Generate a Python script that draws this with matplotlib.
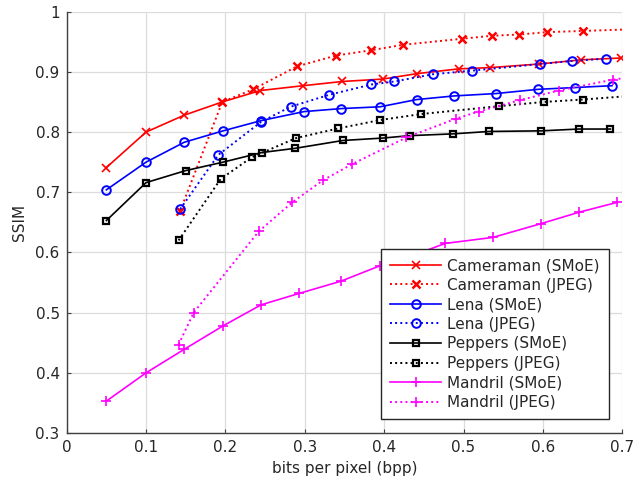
import matplotlib
matplotlib.use("Agg")
import matplotlib.pyplot as plt

# Cameraman
cam_smoe_x = [0.05, 0.10, 0.148, 0.196, 0.244, 0.298, 0.347, 0.398, 0.441, 0.494, 0.533, 0.595, 0.648, 0.698]
cam_smoe_y = [0.741, 0.800, 0.828, 0.850, 0.869, 0.877, 0.884, 0.888, 0.897, 0.905, 0.907, 0.913, 0.920, 0.923]
cam_jpeg_x = [0.143, 0.196, 0.235, 0.290, 0.339, 0.384, 0.424, 0.498, 0.536, 0.570, 0.605, 0.651, 0.74]
cam_jpeg_y = [0.669, 0.850, 0.871, 0.909, 0.927, 0.936, 0.945, 0.955, 0.960, 0.962, 0.966, 0.968, 0.972]

# Lena
lena_smoe_x = [0.05, 0.10, 0.148, 0.197, 0.245, 0.299, 0.346, 0.395, 0.441, 0.488, 0.541, 0.594, 0.641, 0.687]
lena_smoe_y = [0.704, 0.750, 0.783, 0.802, 0.819, 0.834, 0.839, 0.842, 0.854, 0.860, 0.864, 0.871, 0.874, 0.877]
lena_jpeg_x = [0.143, 0.191, 0.245, 0.282, 0.331, 0.384, 0.413, 0.461, 0.511, 0.596, 0.636, 0.679]
lena_jpeg_y = [0.672, 0.762, 0.817, 0.842, 0.862, 0.879, 0.884, 0.896, 0.902, 0.913, 0.918, 0.922]

# Peppers
pep_smoe_x = [0.05, 0.10, 0.150, 0.197, 0.246, 0.288, 0.348, 0.398, 0.432, 0.487, 0.532, 0.598, 0.645, 0.685]
pep_smoe_y = [0.653, 0.716, 0.736, 0.750, 0.766, 0.773, 0.786, 0.790, 0.794, 0.797, 0.801, 0.802, 0.805, 0.805]
pep_jpeg_x = [0.141, 0.194, 0.233, 0.289, 0.342, 0.395, 0.447, 0.545, 0.601, 0.650, 0.74]
pep_jpeg_y = [0.620, 0.722, 0.758, 0.790, 0.806, 0.820, 0.830, 0.843, 0.850, 0.854, 0.863]

# Mandril
man_smoe_x = [0.05, 0.10, 0.148, 0.197, 0.245, 0.293, 0.345, 0.395, 0.440, 0.477, 0.537, 0.598, 0.646, 0.693]
man_smoe_y = [0.353, 0.400, 0.439, 0.478, 0.513, 0.532, 0.552, 0.578, 0.597, 0.615, 0.625, 0.648, 0.667, 0.683]
man_jpeg_x = [0.141, 0.160, 0.242, 0.284, 0.323, 0.360, 0.428, 0.490, 0.519, 0.571, 0.620, 0.688, 0.74]
man_jpeg_y = [0.447, 0.500, 0.635, 0.683, 0.720, 0.747, 0.791, 0.822, 0.834, 0.853, 0.869, 0.887, 0.897]

xticks = [0, 0.1, 0.2, 0.3, 0.4, 0.5, 0.6, 0.7]
yticks = [0.3, 0.4, 0.5, 0.6, 0.7, 0.8, 0.9, 1.0]
xtick_labels = ["0", "0.1", "0.2", "0.3", "0.4", "0.5", "0.6", "0.7"]
ytick_labels = ["0.3", "0.4", "0.5", "0.6", "0.7", "0.8", "0.9", "1"]

plt.rcParams['font.family'] = ['DejaVu Sans']
txt = '#262626'

fig = plt.figure(figsize=(6.35, 4.86), dpi=100)
ax = fig.add_axes([0.105, 0.109, 0.875, 0.867])

lw = 1.2
dlw = 1.4
ax.plot(cam_smoe_x, cam_smoe_y, '-', color='red', marker='x', ms=5.5, mew=1.2, lw=lw, label='Cameraman (SMoE)')
ax.plot(cam_jpeg_x, cam_jpeg_y, ':', color='red', marker='x', ms=5.5, mew=1.8, lw=dlw, label='Cameraman (JPEG)')
ax.plot(lena_smoe_x, lena_smoe_y, '-', color='blue', marker='o', ms=6.2, mfc='none', mew=1.4, lw=lw, label='Lena (SMoE)')
ax.plot(lena_jpeg_x, lena_jpeg_y, ':', color='blue', marker='o', ms=6.2, mfc='none', mew=1.4, lw=dlw, label='Lena (JPEG)')
ax.plot(pep_smoe_x, pep_smoe_y, '-', color='black', marker='s', ms=4.8, mfc='none', mew=1.6, lw=lw, label='Peppers (SMoE)')
ax.plot(pep_jpeg_x, pep_jpeg_y, ':', color='black', marker='s', ms=4.8, mfc='none', mew=1.6, lw=dlw, label='Peppers (JPEG)')
ax.plot(man_smoe_x, man_smoe_y, '-', color='magenta', marker='+', ms=6.5, mew=1.2, lw=lw, label='Mandril (SMoE)')
ax.plot(man_jpeg_x, man_jpeg_y, ':', color='magenta', marker='+', ms=6.5, mew=1.2, lw=dlw, label='Mandril (JPEG)')

ax.set_xlim(0, 0.7)
ax.set_ylim(0.3, 1.0)
ax.set_xticks(xticks)
ax.set_xticklabels(xtick_labels)
ax.set_yticks(yticks)
ax.set_yticklabels(ytick_labels)
ax.tick_params(direction='in', length=3, colors='#404040', labelcolor=txt, labelsize=11, pad=5)
ax.grid(True, color='#dcdcdc', lw=0.9)
ax.set_axisbelow(True)
for s in ['top', 'right']:
    ax.spines[s].set_visible(False)
for s in ['left', 'bottom']:
    ax.spines[s].set_color('#404040')
    ax.spines[s].set_linewidth(1.0)

ax.set_xlabel('bits per pixel (bpp)', fontsize=11, color=txt, labelpad=4)
ax.set_ylabel('SSIM', fontsize=11, color=txt, labelpad=6)

leg = ax.legend(loc='lower right', fontsize=11, fancybox=False, framealpha=1,
                edgecolor='#262626', handlelength=3.3, labelspacing=0.3,
                borderaxespad=0.9, borderpad=0.6, handletextpad=0.4)
leg.get_frame().set_linewidth(1.0)
for t in leg.get_texts():
    t.set_color(txt)

fig.savefig('out.png', dpi=100)
